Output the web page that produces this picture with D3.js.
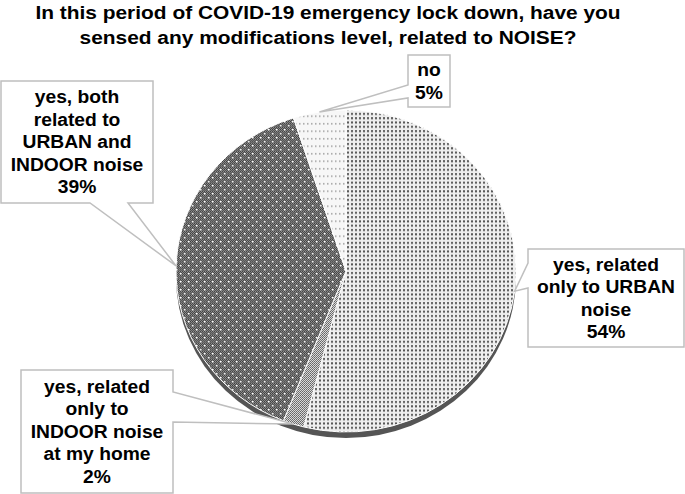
<!DOCTYPE html>
<html lang="en">
<head>
    <meta charset="UTF-8">
    <title>COVID-19 lock down noise survey</title>
    <script src="https://d3js.org/d3.v7.min.js"></script>
    <style>
        body { margin: 0; background: #fff; }
        text { font-family: "Liberation Sans", Arial, sans-serif; font-weight: bold; fill: #000; }
    </style>
</head>
<body>
    <div id="chart"></div>

    <script>
        // Datos
        const titleLines = [
            "In this period of COVID-19 emergency lock down, have you",
            "sensed any modifications level, related to NOISE?"
        ];
        const categories = [
            "yes, related only to URBAN noise",
            "yes, related only to INDOOR noise at my home",
            "yes, both related to URBAN and INDOOR noise",
            "no"
        ];
        const values = [54, 2, 39, 5];
        const labelLines = [
            ["yes, related", "only to URBAN", "noise"],
            ["yes, related", "only to", "INDOOR noise", "at my home"],
            ["yes, both", "related to", "URBAN and", "INDOOR noise"],
            ["no"]
        ];

        // Configuracion
        const width = 685, height = 494;
        const cx = 346, cy = 271, rx = 170, ry = 161, depth = 6;
        const k = ry / rx;
        const lh = 22.5;

        // cajas de las etiquetas (a, b: base de la flecha)
        const boxes = [
            { x: 528, y: 249, w: 156, h: 98, side: "left", a: 263, b: 288 },
            { x: 21, y: 370, w: 152, h: 123, side: "right", a: 392, b: 422 },
            { x: 1, y: 81, w: 152, h: 122, side: "bottom", a: 90, b: 128 },
            { x: 408, y: 55, w: 42, h: 52, side: "left", a: 85, b: 98 }
        ];
        const fills = ["url(#pDots)", "url(#pMid)", "url(#pDark)", "url(#pLight)"];

        const svg = d3.select("#chart").append("svg")
            .attr("width", width)
            .attr("height", height);

        // Patrones
        const defs = svg.append("defs");
        const pt = `scale(1, ${1 / k})`;

        const chk = defs.append("pattern").attr("id", "chk")
            .attr("width", 2).attr("height", 2).attr("patternUnits", "userSpaceOnUse")
            .attr("patternTransform", pt);
        chk.append("rect").attr("width", 2).attr("height", 2).attr("fill", "#959595");
        chk.append("rect").attr("width", 1).attr("height", 1).attr("fill", "#3c3c3c");
        chk.append("rect").attr("x", 1).attr("y", 1).attr("width", 1).attr("height", 1).attr("fill", "#3c3c3c");

        const dark = defs.append("pattern").attr("id", "pDark")
            .attr("width", 8).attr("height", 8).attr("patternUnits", "userSpaceOnUse")
            .attr("patternTransform", pt);
        dark.append("rect").attr("width", 8).attr("height", 8).attr("fill", "url(#chk)");
        dark.append("rect").attr("x", 2).attr("y", 2).attr("width", 1.5).attr("height", 1.5).attr("fill", "#fff");
        dark.append("rect").attr("x", 6).attr("y", 6).attr("width", 1.5).attr("height", 1.5).attr("fill", "#eee");

        const mid = defs.append("pattern").attr("id", "pMid")
            .attr("width", 2).attr("height", 2).attr("patternUnits", "userSpaceOnUse")
            .attr("patternTransform", pt);
        mid.append("rect").attr("width", 2).attr("height", 2).attr("fill", "#d8d8d8");
        mid.append("rect").attr("width", 1).attr("height", 1).attr("fill", "#666");
        mid.append("rect").attr("x", 1).attr("y", 1).attr("width", 1).attr("height", 1).attr("fill", "#777");

        const dots = defs.append("pattern").attr("id", "pDots")
            .attr("width", 4).attr("height", 4.3).attr("patternUnits", "userSpaceOnUse")
            .attr("patternTransform", pt);
        dots.append("rect").attr("width", 4).attr("height", 4.3).attr("fill", "#eeeeee");
        dots.append("rect").attr("x", 1).attr("y", 1).attr("width", 2).attr("height", 2).attr("fill", "#555");

        const light = defs.append("pattern").attr("id", "pLight")
            .attr("width", 4).attr("height", 7.5).attr("patternUnits", "userSpaceOnUse")
            .attr("patternTransform", pt);
        light.append("rect").attr("width", 4).attr("height", 7.5).attr("fill", "#f7f7f7");
        light.append("rect").attr("x", 1).attr("y", 2).attr("width", 1.5).attr("height", 1.5).attr("fill", "#a0a0a0");

        // Titulo
        const title = svg.append("g").attr("transform", "translate(328,0) scale(1.1,1)");
        title.selectAll("text").data(titleLines).enter().append("text")
            .attr("x", 0)
            .attr("y", (d, i) => 19 + i * 25)
            .attr("text-anchor", "middle")
            .style("font-size", "19px")
            .text(d => d);

        // Pastel
        const pie = d3.pie().sort(null).value(d => d);
        const arcs = pie(values);
        const arc = d3.arc().innerRadius(0).outerRadius(rx);

        const g = svg.append("g").attr("transform", `translate(${cx},${cy}) scale(1,${k})`);

        // borde inferior (profundidad)
        const side = d3.arc().innerRadius(0).outerRadius(rx)
            .startAngle(Math.PI / 2).endAngle(3 * Math.PI / 2);
        g.append("path")
            .attr("d", side())
            .attr("transform", `translate(0,${depth / k})`)
            .attr("fill", "#555");

        g.selectAll(".slice")
            .data(arcs)
            .enter().append("path")
            .attr("class", "slice")
            .attr("d", arc)
            .attr("fill", (d, i) => fills[i])
            .attr("stroke", "#fff")
            .attr("stroke-width", 1)
            .attr("vector-effect", "non-scaling-stroke");

        // Punta de cada flecha en el borde del pastel
        function tip(d) {
            const a = (d.startAngle + d.endAngle) / 2;
            return [cx + Math.sin(a) * rx, cy - Math.cos(a) * ry];
        }

        function callout(b, t) {
            const x0 = b.x, y0 = b.y, x1 = b.x + b.w, y1 = b.y + b.h;
            let p;
            if (b.side === "left") {
                p = [[x0, y0], [x1, y0], [x1, y1], [x0, y1], [x0, b.b], t, [x0, b.a]];
            } else if (b.side === "right") {
                p = [[x0, y0], [x1, y0], [x1, b.a], t, [x1, b.b], [x1, y1], [x0, y1]];
            } else {
                p = [[x0, y0], [x1, y0], [x1, y1], [b.b, y1], t, [b.a, y1], [x0, y1]];
            }
            return "M" + p.map(q => q.join(",")).join("L") + "Z";
        }

        const labels = svg.selectAll(".label")
            .data(arcs)
            .enter().append("g")
            .attr("class", "label");

        labels.append("path")
            .attr("d", (d, i) => callout(boxes[i], tip(d)))
            .attr("fill", "#fff")
            .attr("stroke", "#bfbfbf")
            .attr("stroke-width", 1.5);

        labels.each(function(d, i) {
            const b = boxes[i];
            const lines = labelLines[i].concat([d.data + "%"]);
            const c = b.y + b.h / 2;
            const tg = d3.select(this).append("g")
                .attr("transform", `translate(${b.x + b.w / 2},0) scale(1.07,1)`);
            tg.selectAll("text").data(lines).enter().append("text")
                .attr("x", 0)
                .attr("y", (t, j) => c - (lines.length - 1) * lh / 2 + j * lh + 6.5)
                .attr("text-anchor", "middle")
                .style("font-size", "18px")
                .text(t => t);
        });
    </script>
</body>
</html>
